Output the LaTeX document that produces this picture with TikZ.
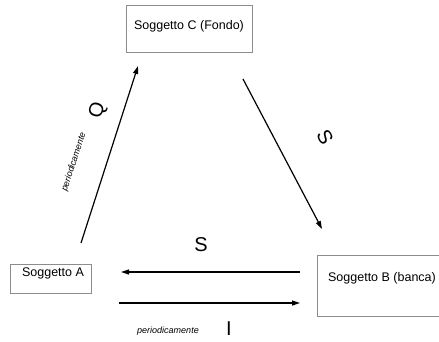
\documentclass[tikz,border=0pt]{standalone}
\usepackage{fontspec}
\setmainfont{Liberation Sans}
\usetikzlibrary{arrows.meta,shadows}
\begin{document}
\begin{tikzpicture}[x=1pt,y=-1pt,
  box/.style={draw=black!45, line width=0.6pt, fill=white, rectangle, inner sep=0pt,
    drop shadow={opacity=0.25, shadow xshift=0.6pt, shadow yshift=-1.2pt}},
  boxtext/.style={font=\fontsize{12.5}{14}\selectfont, inner sep=0pt},
  big/.style={font=\fontsize{20}{22}\selectfont, inner sep=0pt},
  small/.style={font=\fontsize{9}{10}\selectfont\itshape, inner sep=0pt},
  arr/.style={line width=1.2pt, -{Triangle[length=8pt,width=5pt]}}]
\useasboundingbox (0,0) rectangle (439,341);
% boxes
\node[box, minimum width=126pt, minimum height=47pt] (C) at (189,28.5) {};
\node[boxtext] (Ct) at (189,26) {Soggetto C (Fondo)};
\node[box, minimum width=81pt, minimum height=29pt] (A) at (50.5,278.5) {};
\node[boxtext] (At) at (53,273) {Soggetto A};
\node[box, minimum width=130pt, minimum height=61pt] (B) at (382,285.5) {};
\node[boxtext] (Bt) at (382,278) {Soggetto B (banca)};
% connector endpoints
\coordinate (q1) at (81,243);
\coordinate (q2) at (138,66);
\coordinate (s1) at (243,79);
\coordinate (s2) at (322,229);
\coordinate (h1) at (300,272);
\coordinate (h2) at (121,272);
\coordinate (l1) at (119,303);
\coordinate (l2) at (300,303);
\draw[arr] (q1) -- (q2);
\draw[arr] (s1) -- (s2);
\draw[arr] (h1) -- (h2);
\draw[arr] (l1) -- (l2);
% labels
\node[big, rotate=72] (Q) at (98,111) {Q};
\node[small, rotate=72] (p1) at (74,162) {periodicamente};
\node[big, rotate=-62] (S1) at (325,137) {S};
\node[big] (S2) at (201,245) {S};
\node[small] (p2) at (168,331) {periodicamente};
\node[big, anchor=base, text depth=0pt] (I) at (229,335.5) {I};
\end{tikzpicture}
\end{document}
